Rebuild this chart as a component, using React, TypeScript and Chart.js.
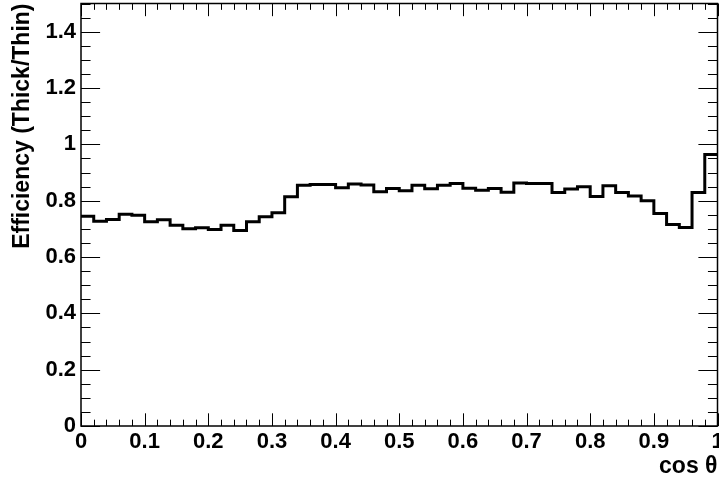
import React, { useEffect, useRef } from "react";
import { Chart, registerables } from "chart.js";

Chart.register(...registerables);

// Histogram: efficiency ratio per cos(theta) bin (bin width 0.02, 0..1)
const binLowEdges: number[] = [
  0.0, 0.02, 0.04, 0.06, 0.08, 0.1, 0.12, 0.14, 0.16, 0.18,
  0.2, 0.22, 0.24, 0.26, 0.28, 0.3, 0.32, 0.34, 0.36, 0.38,
  0.4, 0.42, 0.44, 0.46, 0.48, 0.5, 0.52, 0.54, 0.56, 0.58,
  0.6, 0.62, 0.64, 0.66, 0.68, 0.7, 0.72, 0.74, 0.76, 0.78,
  0.8, 0.82, 0.84, 0.86, 0.88, 0.9, 0.92, 0.94, 0.96, 0.98,
];
const efficiency: number[] = [
  0.745, 0.727, 0.733, 0.752, 0.748, 0.725, 0.732, 0.713, 0.700, 0.704,
  0.698, 0.713, 0.694, 0.725, 0.743, 0.757, 0.814, 0.855, 0.857, 0.857,
  0.846, 0.859, 0.856, 0.832, 0.843, 0.835, 0.855, 0.842, 0.855, 0.861,
  0.844, 0.837, 0.843, 0.830, 0.863, 0.861, 0.861, 0.829, 0.841, 0.849,
  0.815, 0.853, 0.829, 0.817, 0.800, 0.754, 0.715, 0.705, 0.829, 0.964,
];
const xUpperEdge = 1.0;

const xMajorTicks: number[] = [0, 0.1, 0.2, 0.3, 0.4, 0.5, 0.6, 0.7, 0.8, 0.9, 1];
const xTickLabels: string[] = ["0", "0.1", "0.2", "0.3", "0.4", "0.5", "0.6", "0.7", "0.8", "0.9", "1"];
const xMinorStep = 0.02;
const yMajorTicks: number[] = [0, 0.2, 0.4, 0.6, 0.8, 1, 1.2, 1.4];
const yTickLabels: string[] = ["0", "0.2", "0.4", "0.6", "0.8", "1", "1.2", "1.4"];
const yMinorStep = 0.05;
const xRange = [0, 1];
const yRange = [0, 1.5];

const xTitle = "cos θ";
const yTitle = "Efficiency (Thick/Thin)";

const FONT = "'Liberation Sans', Arial, Helvetica, sans-serif";

const frameTicksPlugin = {
  id: "frameTicks",
  afterDatasetsDraw(chart: any) {
    const { ctx, chartArea, scales } = chart;
    const xs = scales.x;
    const ys = scales.y;
    const { left, right, top, bottom } = chartArea;
    const w = right - left;
    const h = bottom - top;
    const xMajLen = 0.03 * h;
    const xMinLen = xMajLen / 2;
    const yMajLen = 0.03 * w;
    const yMinLen = yMajLen / 2;
    ctx.save();
    ctx.strokeStyle = "#000";
    ctx.lineWidth = 1;
    ctx.beginPath();
    const nx = Math.round((xRange[1] - xRange[0]) / xMinorStep);
    for (let i = 0; i <= nx; i++) {
      const v = xRange[0] + i * xMinorStep;
      const isMajor = xMajorTicks.some((t) => Math.abs(t - v) < 1e-6);
      const len = isMajor ? xMajLen : xMinLen;
      const px = Math.round(xs.getPixelForValue(v)) + 0.5;
      ctx.moveTo(px, bottom);
      ctx.lineTo(px, bottom - len);
      ctx.moveTo(px, top);
      ctx.lineTo(px, top + len);
    }
    const ny = Math.round((yRange[1] - yRange[0]) / yMinorStep);
    for (let i = 0; i <= ny; i++) {
      const v = yRange[0] + i * yMinorStep;
      const isMajor = yMajorTicks.some((t) => Math.abs(t - v) < 1e-6);
      const len = isMajor ? yMajLen : yMinLen;
      const py = Math.round(ys.getPixelForValue(v)) + 0.5;
      ctx.moveTo(left, py);
      ctx.lineTo(left + len, py);
      ctx.moveTo(right, py);
      ctx.lineTo(right - len, py);
    }
    ctx.stroke();
    ctx.lineWidth = 1.5;
    ctx.strokeRect(left, top, w, h);
    ctx.restore();
  },
};

export default function App() {
  const canvasRef = useRef<HTMLCanvasElement | null>(null);

  useEffect(() => {
    const canvas = canvasRef.current;
    if (!canvas) return;
    const points = binLowEdges.map((x, i) => ({ x, y: efficiency[i] }));
    points.push({ x: xUpperEdge, y: efficiency[efficiency.length - 1] });

    const chart = new Chart(canvas, {
      type: "line",
      data: {
        datasets: [
          {
            data: points,
            stepped: true,
            borderColor: "#000",
            borderWidth: 3,
            pointRadius: 0,
            fill: false,
            tension: 0,
          },
        ],
      },
      options: {
        animation: false,
        responsive: false,
        maintainAspectRatio: false,
        devicePixelRatio: 1,
        layout: { padding: { top: 3.5, right: 1.5, left: 0, bottom: 0 } },
        plugins: {
          legend: { display: false },
          tooltip: { enabled: false },
        },
        scales: {
          x: {
            type: "linear",
            min: xRange[0],
            max: xRange[1],
            grid: { display: false, drawTicks: false },
            border: { display: false },
            afterBuildTicks: (scale: any) => {
              scale.ticks = xMajorTicks.map((v) => ({ value: v }));
            },
            afterFit: (scale: any) => {
              scale.height = 52;
              scale.paddingLeft = 0;
              scale.paddingRight = 0;
            },
            ticks: {
              autoSkip: false,
              maxRotation: 0,
              padding: 5,
              color: "#000",
              font: { family: FONT, size: 22, weight: "bold", lineHeight: 1 },
              callback: (_v: any, i: number) => xTickLabels[i],
            },
            title: {
              display: true,
              text: xTitle,
              align: "end",
              color: "#000",
              padding: { top: 0, bottom: 0 },
              font: { family: FONT, size: 23, weight: "bold", lineHeight: 1 },
            },
          },
          y: {
            type: "linear",
            min: yRange[0],
            max: yRange[1],
            grid: { display: false, drawTicks: false },
            border: { display: false },
            afterBuildTicks: (scale: any) => {
              scale.ticks = yMajorTicks.map((v) => ({ value: v }));
            },
            afterFit: (scale: any) => {
              scale.width = 81;
              scale.paddingTop = 0;
              scale.paddingBottom = 0;
            },
            ticks: {
              autoSkip: false,
              padding: 5,
              color: "#000",
              font: { family: FONT, size: 22, weight: "bold", lineHeight: 1 },
              callback: (_v: any, i: number) => yTickLabels[i],
            },
            title: {
              display: true,
              text: yTitle,
              align: "end",
              color: "#000",
              padding: { top: 11, bottom: 0 },
              font: { family: FONT, size: 23, weight: "bold", lineHeight: 1 },
            },
          },
        },
      },
      plugins: [frameTicksPlugin],
    });
    return () => chart.destroy();
  }, []);

  return (
    <div
      style={{
        position: "fixed",
        left: 0,
        top: 0,
        width: 719,
        height: 478,
        background: "#fff",
        overflow: "hidden",
      }}
    >
      <canvas ref={canvasRef} width={719} height={478} style={{ width: 719, height: 478, display: "block" }} />
    </div>
  );
}
